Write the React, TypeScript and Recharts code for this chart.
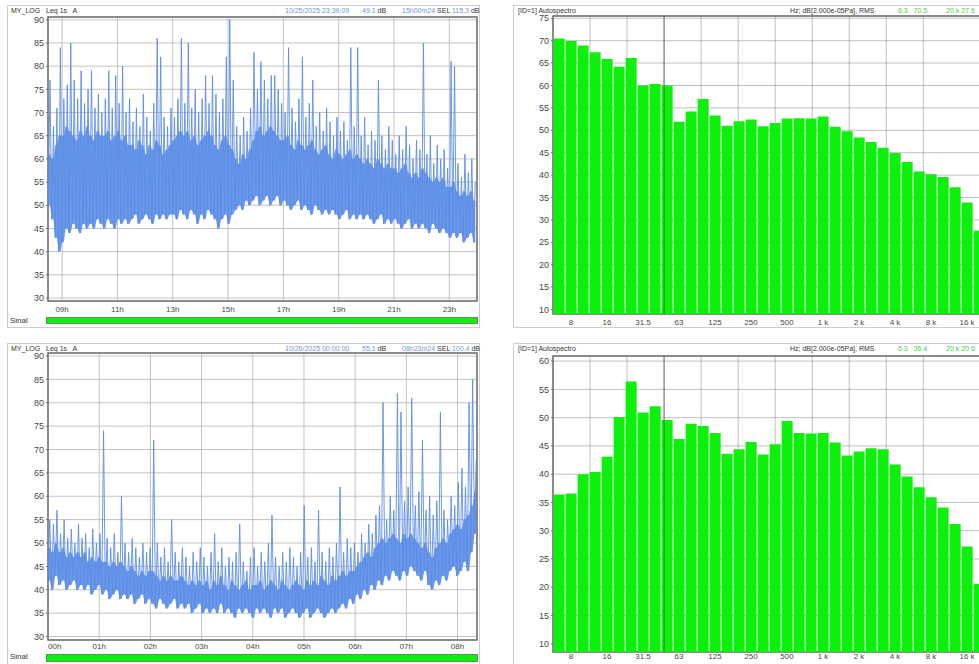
import React from 'react';
import {
  ComposedChart,
  Line,
  Area,
  BarChart,
  Bar,
  XAxis,
  YAxis,
  CartesianGrid,
  ReferenceArea,
  ReferenceLine,
} from 'recharts';

const FONT = '"Liberation Sans", Arial, Helvetica, sans-serif';

// ---------- Top-left trace: Leq 1s A (08:30 -> 24:00), 7.5 min buckets ----------
const topStartHour = 8.5;
const topStepHour = 0.125;
const topHigh = [
  77, 67, 71, 84, 73, 76, 85, 77, 73, 79, 72, 75, 79, 71, 74, 70, 73, 79, 71, 78,
  72, 80, 70, 73, 68, 71, 67, 74, 69, 66, 72, 86, 82, 69, 67, 71, 69, 73, 86, 72,
  85, 71, 75, 70, 73, 78, 72, 78, 74, 70, 73, 82, 90, 77, 67, 65, 69, 66, 71, 83,
  75, 81, 77, 73, 78, 78, 75, 72, 70, 84, 71, 68, 73, 82, 69, 72, 77, 67, 70, 66,
  71, 68, 65, 69, 66, 68, 64, 84, 67, 84, 65, 69, 63, 66, 64, 77, 65, 62, 67, 64,
  61, 65, 62, 67, 63, 60, 64, 62, 85, 61, 65, 59, 63, 60, 62, 58, 81, 80, 59, 56,
  61, 57, 60, 55,
];
const topCore = [
  61, 60, 63, 65, 65, 67, 66, 65, 64, 66, 65, 67, 65, 64, 66, 65, 65, 66, 64, 65,
  66, 64, 65, 63, 63, 62, 64, 63, 61, 63, 62, 64, 63, 61, 62, 63, 64, 65, 66, 65,
  66, 64, 65, 63, 64, 65, 66, 65, 63, 62, 64, 65, 63, 62, 60, 59, 61, 60, 62, 64,
  66, 67, 65, 66, 67, 66, 65, 64, 64, 65, 63, 62, 64, 63, 62, 63, 64, 62, 61, 62,
  63, 61, 60, 62, 61, 60, 61, 62, 60, 61, 60, 59, 60, 59, 58, 60, 59, 58, 59, 58,
  58, 57, 58, 59, 57, 56, 57, 56, 58, 57, 56, 55, 56, 55, 56, 54, 54, 55, 53, 52,
  53, 52, 53, 51,
];
const topLow = [
  50, 47, 43, 40, 42, 45, 44, 46, 45, 44, 46, 45, 46, 45, 47, 46, 45, 47, 46, 45,
  47, 46, 47, 46, 47, 48, 46, 47, 48, 47, 46, 48, 47, 48, 47, 48, 48, 47, 49, 48,
  47, 49, 48, 46, 48, 47, 49, 48, 47, 45, 47, 48, 46, 48, 49, 50, 49, 51, 50, 51,
  52, 50, 51, 52, 50, 51, 52, 50, 51, 50, 49, 50, 51, 49, 50, 49, 48, 50, 49, 48,
  49, 48, 49, 48, 47, 48, 49, 47, 48, 47, 48, 47, 48, 47, 46, 47, 48, 46, 47, 46,
  47, 46, 45, 46, 47, 45, 46, 45, 46, 45, 44, 46, 45, 44, 45, 44, 43, 44, 43, 44,
  42, 43, 44, 42,
];
const topHourTicks = [9, 11, 13, 15, 17, 19, 21, 23];
const topHourLabels = ['09h', '11h', '13h', '15h', '17h', '19h', '21h', '23h'];

// ---------- Bottom-left trace: Leq 1s A (00:00 -> 08:23), 4.2 min buckets ----------
const botStartHour = 0;
const botStepHour = 0.07;
const botHigh = [
  55, 54, 57, 52, 55, 51, 53, 50, 54, 51, 52, 49, 53, 50, 52, 74, 51, 49, 52, 48,
  60, 50, 48, 51, 49, 47, 50, 48, 49, 72, 50, 47, 49, 46, 55, 48, 46, 49, 47, 45,
  48, 46, 49, 47, 45, 48, 52, 46, 49, 45, 47, 46, 48, 54, 46, 44, 47, 49, 45, 48,
  46, 50, 56, 47, 45, 48, 46, 49, 47, 45, 48, 58, 47, 49, 46, 57, 48, 46, 49, 47,
  50, 62, 48, 51, 49, 50, 48, 52, 50, 54, 52, 56, 58, 80, 55, 60, 57, 82, 78, 59,
  62, 81, 58, 61, 72, 57, 60, 56, 59, 78, 57, 55, 60, 58, 63, 66, 62, 80, 85, 68,
];
const botCore = [
  49, 48, 50, 48, 49, 47, 48, 47, 48, 47, 48, 46, 47, 46, 47, 46, 46, 45, 46, 45,
  46, 45, 44, 45, 44, 43, 44, 43, 44, 44, 43, 42, 43, 42, 43, 42, 42, 43, 42, 41,
  42, 41, 42, 41, 42, 40, 42, 41, 43, 41, 40, 42, 41, 40, 41, 42, 40, 41, 41, 42,
  40, 41, 42, 41, 40, 42, 41, 40, 41, 42, 41, 40, 42, 41, 42, 41, 43, 42, 41, 43,
  42, 43, 44, 43, 44, 44, 45, 46, 47, 48, 47, 49, 50, 51, 50, 51, 52, 51, 50, 52,
  51, 52, 51, 50, 49, 50, 48, 47, 49, 50, 51, 50, 52, 53, 54, 53, 55, 56, 58, 61,
];
const botLow = [
  42, 40, 43, 41, 42, 40, 41, 42, 40, 41, 40, 41, 39, 40, 41, 39, 40, 38, 39, 40,
  38, 39, 38, 39, 37, 38, 39, 37, 38, 37, 36, 38, 37, 36, 37, 38, 36, 37, 36, 37,
  35, 36, 37, 35, 36, 35, 36, 35, 37, 35, 36, 35, 34, 36, 35, 36, 35, 34, 36, 35,
  36, 35, 34, 36, 35, 36, 34, 35, 36, 35, 34, 35, 36, 34, 35, 36, 35, 34, 35, 36,
  35, 36, 37, 36, 38, 37, 39, 38, 40, 39, 41, 40, 42, 41, 43, 42, 44, 43, 42, 44,
  43, 45, 44, 43, 42, 44, 41, 40, 42, 41, 43, 42, 44, 45, 43, 44, 46, 44, 48, 52,
];
const botHourTicks = [0, 1, 2, 3, 4, 5, 6, 7, 8];
const botHourLabels = ['00h', '01h', '02h', '03h', '04h', '05h', '06h', '07h', '08h'];

const levelTicks = [30, 35, 40, 45, 50, 55, 60, 65, 70, 75, 80, 85, 90];

// ---------- Spectra (1/3 octave, 6.3 Hz .. 20 kHz) ----------
const bandLabels = [
  '6.3', '8', '10', '12.5', '16', '20', '25', '31.5', '40', '50', '63', '80',
  '100', '125', '160', '200', '250', '315', '400', '500', '630', '800', '1 k', '1.25 k',
  '1.6 k', '2 k', '2.5 k', '3.15 k', '4 k', '5 k', '6.3 k', '8 k', '10 k', '12.5 k', '16 k', '20 k',
];
const bandShown = ['8', '16', '31.5', '63', '125', '250', '500', '1 k', '2 k', '4 k', '8 k', '16 k'];
const topSpectrum = [
  70.5, 69.9, 68.9, 67.4, 65.9, 64.2, 66.1, 60.0, 60.3, 60.0, 51.9, 54.2,
  57.0, 53.3, 51.0, 52.0, 52.4, 50.9, 51.6, 52.6, 52.7, 52.6, 53.1, 50.8,
  49.8, 48.4, 47.4, 46.1, 44.9, 42.9, 40.8, 40.2, 39.6, 37.3, 33.9, 27.6,
];
const botSpectrum = [
  36.4, 36.6, 40.0, 40.4, 43.1, 50.1, 56.4, 50.9, 52.0, 49.6, 46.2, 48.9,
  48.5, 47.3, 43.6, 44.4, 45.7, 43.5, 45.3, 49.4, 47.3, 47.2, 47.3, 45.6,
  43.3, 44.0, 44.6, 44.4, 41.7, 39.6, 37.7, 35.9, 34.1, 31.2, 27.2, 20.6,
];
const topSpecTicks = [10, 15, 20, 25, 30, 35, 40, 45, 50, 55, 60, 65, 70, 75];
const botSpecTicks = [10, 15, 20, 25, 30, 35, 40, 45, 50, 55, 60];
const bandGroupTicks = [0, 3, 6, 9, 12, 15, 18, 21, 24, 27, 30, 33, 36];

const TRACE = '#5b8de6';
const GREEN = '#0cf00c';
const GRID = '#b9b9b9';
const FRAME = '#6f6f6f';
const TXT = '#474747';

type Pt = { t: number; v: number; band: [number, number] };

function buildTrace(start: number, step: number, low: number[], core: number[], high: number[]) {
  const out: Pt[] = [];
  for (let i = 0; i < low.length; i++) {
    const t = start + i * step;
    const band: [number, number] = [low[i], core[i]];
    out.push({ t, v: low[i], band });
    out.push({ t: t + step / 2, v: high[i], band });
  }
  return out;
}

const topTrace = buildTrace(topStartHour, topStepHour, topLow, topCore, topHigh);
const botTrace = buildTrace(botStartHour, botStepHour, botLow, botCore, botHigh);
const topBands = bandLabels.map((band, i) => ({ band, i, level: topSpectrum[i] }));
const botBands = bandLabels.map((band, i) => ({ band, i, level: botSpectrum[i] }));

const abs = (left: number, top: number, extra: React.CSSProperties = {}): React.CSSProperties => ({
  position: 'absolute',
  left,
  top,
  ...extra,
});

const hdr: React.CSSProperties = { fontSize: 7, lineHeight: '8px', color: '#333', whiteSpace: 'pre', fontFamily: FONT };
const blue = { color: '#7896dc' };
const grn = { color: '#44d044' };

function TimeChart(props: {
  data: Pt[];
  height: number;
  xDomain: [number, number];
  yDomain: [number, number];
  ticks: number[];
  labels: string[];
  tickMargin: number;
  firstStart: boolean;
}) {
  const { data, height, xDomain, yDomain, ticks, labels, tickMargin, firstStart } = props;
  const renderTick = (p: any) => {
    const idx = ticks.indexOf(p.payload.value);
    const anchor = firstStart && idx === 0 ? 'start' : 'middle';
    return (
      <text x={p.x} y={p.y} dy="0.71em" textAnchor={anchor} fontSize={8} fill={TXT} fontFamily={FONT}>
        {labels[idx]}
      </text>
    );
  };
  return (
    <ComposedChart width={480} height={height} data={data} margin={{ top: 17, right: 3, left: 0, bottom: 8 }}>
      <XAxis
        dataKey="t"
        type="number"
        domain={xDomain}
        ticks={ticks}
        allowDataOverflow
        height={11}
        tickLine={false}
        axisLine={false}
        tickSize={0}
        tickMargin={tickMargin}
        tick={renderTick}
        interval={0}
      />
      <YAxis
        type="number"
        domain={yDomain}
        ticks={levelTicks}
        allowDataOverflow
        width={48}
        tickSize={2}
        tickMargin={2}
        axisLine={false}
        tickLine={{ stroke: FRAME }}
        tick={{ fontSize: 9, fill: TXT, fontFamily: FONT }}
        interval={0}
      />
      <Area dataKey="band" type="linear" stroke="none" fill={TRACE} fillOpacity={0.9} isAnimationActive={false} />
      <Line dataKey="v" type="linear" stroke={TRACE} strokeWidth={0.9} dot={false} isAnimationActive={false} />
      <CartesianGrid stroke={GRID} strokeOpacity={0.85} />
      <ReferenceArea x1={xDomain[0]} x2={xDomain[1]} y1={yDomain[0]} y2={yDomain[1]} fill="none" stroke={FRAME} strokeWidth={1.5} />
    </ComposedChart>
  );
}

function SpecChart(props: { data: any[]; height: number; yDomain: [number, number]; ticks: number[]; tickMargin: number; xHeight: number }) {
  const { data, height, yDomain, ticks, tickMargin, xHeight } = props;
  return (
    <BarChart width={480} height={height} data={data} margin={{ top: 16, right: 0, left: 0, bottom: 8 }} barCategoryGap={0.65}>
      <XAxis
        dataKey="band"
        type="category"
        interval={0}
        height={xHeight}
        tickLine={false}
        axisLine={false}
        tickSize={0}
        tickMargin={tickMargin}
        tick={{ fontSize: 8, fill: TXT, fontFamily: FONT }}
        tickFormatter={(v: string) => (bandShown.includes(v) ? v : '')}
      />
      <XAxis xAxisId="g" type="number" domain={[0, 36]} ticks={bandGroupTicks} hide />
      <YAxis
        type="number"
        domain={yDomain}
        ticks={ticks}
        allowDataOverflow
        width={48}
        tickSize={2}
        tickMargin={2}
        axisLine={false}
        tickLine={{ stroke: FRAME }}
        tick={{ fontSize: 9, fill: TXT, fontFamily: FONT }}
        interval={0}
      />
      <Bar dataKey="level" fill={GREEN} isAnimationActive={false} />
      <CartesianGrid xAxisId="g" stroke="#707070" strokeOpacity={0.45} />
      <ReferenceLine xAxisId="g" x={9} stroke="#505050" strokeOpacity={0.7} />
      <ReferenceArea xAxisId="g" x1={0} x2={36} y1={yDomain[0]} y2={yDomain[1]} fill="none" stroke={FRAME} strokeWidth={1.5} ifOverflow="visible" />
    </BarChart>
  );
}

function Header(props: { top: number; left: number; children: React.ReactNode }) {
  return <div style={{ ...abs(props.left, props.top), ...hdr }}>{props.children}</div>;
}

export default function App() {
  const frame = (left: number, top: number, h: number): React.CSSProperties =>
    abs(left, top, { width: left > 400 ? 480 : 473, height: h, border: '1px solid #cdcdcd', boxSizing: 'border-box', background: '#fff' });
  return (
    <div style={{ position: 'absolute', left: 0, top: 0, width: 979, height: 664, overflow: 'hidden', background: '#fff', fontFamily: FONT }}>
      {/* frames */}
      <div style={frame(7, 5, 323)} />
      <div style={frame(513, 5, 323)} />
      <div style={frame(7, 343, 330)} />
      <div style={frame(513, 343, 330)} />

      {/* top-left */}
      <Header left={11} top={7}>MY_LOG   Leq 1s   A</Header>
      <Header left={285} top={7}>
        <span style={blue}>10/25/2025 23:39:09</span>
      </Header>
      <Header left={362} top={7}>
        <span style={blue}>49.1</span> dB
      </Header>
      <Header left={402} top={7}>
        <span style={blue}>15h00m24</span> SEL <span style={blue}>115.3</span> dB
      </Header>
      <div style={abs(0, 0)}>
        <TimeChart
          data={topTrace}
          height={320}
          xDomain={[8.49, 24.0]}
          yDomain={[29.35, 90.6]}
          ticks={topHourTicks}
          labels={topHourLabels}
          tickMargin={5}
          firstStart={false}
        />
      </div>
      <div style={{ ...abs(10, 316), fontSize: 8, color: '#333' }}>Sinal</div>
      <div style={abs(46, 317, { width: 432, height: 7, background: GREEN, border: '1px solid #5f8f5f', boxSizing: 'border-box' })} />

      {/* top-right */}
      <Header left={518} top={7}>[ID=1] Autospectro</Header>
      <Header left={790} top={7}>Hz; dB[2.000e-05Pa], RMS</Header>
      <Header left={898} top={7}>
        <span style={grn}>6.3   70.5</span>
      </Header>
      <Header left={946} top={7}>
        <span style={grn}>20 k 27.6</span>
      </Header>
      <div style={abs(505, 0)}>
        <SpecChart data={topBands} height={330} yDomain={[9.0, 75.5]} ticks={topSpecTicks} tickMargin={5} xHeight={8} />
      </div>

      {/* bottom-left */}
      <Header left={11} top={345}>MY_LOG   Leq 1s   A</Header>
      <Header left={285} top={345}>
        <span style={blue}>10/26/2025 00:00:00</span>
      </Header>
      <Header left={362} top={345}>
        <span style={blue}>55.1</span> dB
      </Header>
      <Header left={402} top={345}>
        <span style={blue}>08h23m24</span> SEL <span style={blue}>100.4</span> dB
      </Header>
      <div style={abs(0, 336)}>
        <TimeChart
          data={botTrace}
          height={323}
          xDomain={[0, 8.38]}
          yDomain={[29.25, 90.64]}
          ticks={botHourTicks}
          labels={botHourLabels}
          tickMargin={3}
          firstStart={true}
        />
      </div>
      <div style={{ ...abs(10, 652), fontSize: 8, color: '#333' }}>Sinal</div>
      <div style={abs(46, 654, { width: 432, height: 8, background: GREEN, border: '1px solid #5f8f5f', boxSizing: 'border-box' })} />

      {/* bottom-right */}
      <Header left={518} top={345}>[ID=1] Autospectro</Header>
      <Header left={790} top={345}>Hz; dB[2.000e-05Pa], RMS</Header>
      <Header left={898} top={345}>
        <span style={grn}>6.3   36.4</span>
      </Header>
      <Header left={946} top={345}>
        <span style={grn}>20 k 20.6</span>
      </Header>
      <div style={abs(505, 340)}>
        <SpecChart data={botBands} height={330} yDomain={[8.55, 60.9]} ticks={botSpecTicks} tickMargin={1} xHeight={10} />
      </div>
    </div>
  );
}
